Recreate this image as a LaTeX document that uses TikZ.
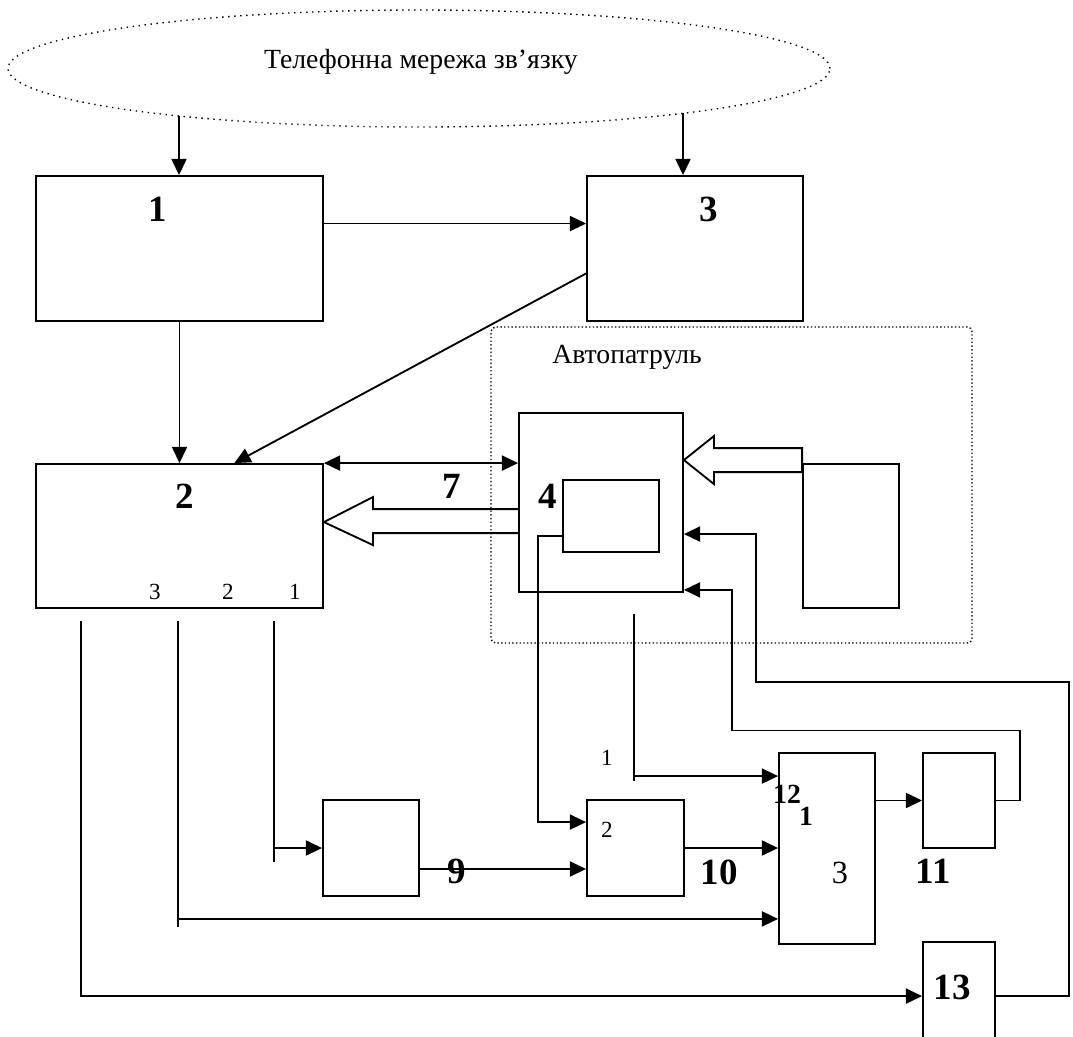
\documentclass[tikz,border=0pt]{standalone}
\usepackage{fontspec}
\setmainfont{Liberation Serif}
\usetikzlibrary{positioning}
\usetikzlibrary{calc}
\usetikzlibrary{arrows.meta}
\usetikzlibrary{fit}
\usetikzlibrary{shapes.geometric}
\newcommand{\pxu}{0.433pt}
\newcommand{\bignum}{\fontsize{16}{19}\selectfont\bfseries}
\newcommand{\midnum}{\fontsize{12}{14}\selectfont\bfseries}
\newcommand{\portnum}{\fontsize{10}{12}\selectfont}

\begin{document}
\begin{tikzpicture}[x=\pxu, y=-\pxu, line width=0.8pt,
    every node/.style={font=\fontsize{12}{14}\selectfont},
    box/.style={draw, rectangle, inner sep=0pt},
    arr/.style={-{Triangle[length=7pt,width=6.5pt]}},
    arrboth/.style={{Triangle[length=7pt,width=6.5pt]}-{Triangle[length=7pt,width=6.5pt]}}]
    \useasboundingbox (0,0) rectangle (1073,1037);
    \clip (0,0) rectangle (1073,1037);

    \node[draw, dotted, line width=0.6pt, ellipse, inner sep=0pt, minimum width=822*\pxu, minimum height=117*\pxu] (net) at (419,68.5) {};
    \node (nettext) at (421,62) {Телефонна мережа зв’язку};
    \node[draw, densely dotted, line width=0.6pt, rounded corners=2pt, inner sep=0pt, fit={(491,327) (972,643)}] (patrol) {};
    \node (patroltext) at (627,357) {Автопатруль};

    \node[box, fit={(36,176) (323,321)}] (box1) {};
    \node[box, fit={(587,176) (803,321)}] (box3) {};
    \node[box, fit={(36,464) (323,608)}] (box2) {};
    \node[box, fit={(519,413) (683,592)}] (box4) {};
    \node[box, fit={(563,480) (659,552)}] (inner) {};
    \node[box, fit={(803,464) (899,608)}] (src) {};
    \node[box, fit={(323,800) (419,896)}] (pre) {};
    \node[box, fit={(587,800) (684,896)}] (sel) {};
    \node[box, fit={(779,753) (875,944)}] (mux) {};
    \node[box, fit={(923,753) (995,848)}] (out11) {};
    \node[box, fit={(923,942) (995,1060)}] (out13) {};

    \node[font=\bignum] (lab1) at (158,209) {1};
    \node[font=\bignum] (lab3) at (709,209) {3};
    \node[font=\bignum] (lab2) at (185,496) {2};
    \node[font=\bignum] (lab4) at (548,496) {4};
    \node[font=\bignum] (lab7) at (452,486) {7};
    \node[font=\bignum] (lab9) at (457,871) {9};
    \node[font=\bignum] (lab10) at (719,872) {10};
    \node[font=\bignum] (lab11) at (933,871) {11};
    \node[font=\bignum] (lab13) at (952,987) {13};
    \node[font=\midnum] (lab12) at (787,794) {12};
    \node[font=\midnum] (lab12a) at (806,816) {1};
    \node[font=\fontsize{14}{16}\selectfont] (labmux) at (840,873) {3};
    \node[font=\portnum] (in1) at (607,758) {1};
    \node[font=\portnum] (in2) at (607,830) {2};
    \node[font=\portnum] (out3) at (155,592) {3};
    \node[font=\portnum] (out2) at (228,592) {2};
    \node[font=\portnum] (out1) at (295,592) {1};

    \coordinate (n1) at (179,116);
    \coordinate (n3) at (683,113);
    \draw[arr] (n1) -- (n1 |- box1.north);
    \draw[arr] (n3) -- (n3 |- box3.north);
    \draw[arr] ($(box1.north east)!0.33!(box1.south east)$) coordinate (p13) -- (p13 -| box3.west);
    \draw[arr] (box1.south) -- (box2.north);
    \draw[arr] ($(box3.north west)!0.67!(box3.south west)$) -- ($(box2.north west)!0.69!(box2.north east)$);
    \draw[arrboth] (box2.north east) -- (box2.north east -| box4.west);

    \coordinate (tip7) at ($(box2.north east)+(0,59)$);
    \draw ($(tip7 -| box4.west)+(0,-13)$) -| ($(tip7)+(49,-25)$) -- (tip7) -- ($(tip7)+(49,23)$) |- ($(tip7 -| box4.west)+(0,11)$);
    \coordinate (tip4) at ($(box4.north east)+(0,48)$);
    \draw ($(tip4 -| src.west)+(0,-12)$) -| ($(tip4)+(30,-24)$) -- (tip4) -- ($(tip4)+(30,24)$) |- ($(tip4 -| src.west)+(0,12)$) -- cycle;

    \draw[arr] ($(inner.south west)+(0,-17)$) -| ($(sel.north west)+(-48,23)$) -- ($(sel.north west)+(0,23)$);

    \coordinate (pt1) at ($(box2.south west)+(239,12)$);
    \coordinate (pt2) at ($(box2.south west)+(143,12)$);
    \coordinate (pt3) at ($(box2.south west)+(46,12)$);
    \draw (pt1) -- ++(0,241);
    \draw[arr] (pt1 |- pre.west) -- (pre.west);
    \draw (pt2) -- ++(0,306);
    \draw[arr] (pt2) |- ($(mux.south west)+(0,-26)$);
    \draw[arr] (pt3) |- ($(out13.north west)+(0,55)$);

    \draw[arr] ($(pre.east)+(0,21)$) -- ($(sel.west)+(0,21)$);
    \draw[arr] (sel.east) -- (sel.east -| mux.west);
    \coordinate (s1) at ($(box4.south west)+(116,21)$);
    \draw (s1) -- ++(0,167);
    \draw[arr] (s1) |- ($(mux.north west)+(0,24)$);
    \draw[arr] (out11.west -| mux.east) -- (out11.west);

    \draw[arr] (out11.east) -- ++(24,0) -- ++(0,-70) -| ($(box4.south east)+(48,-3)$) -- ($(box4.south east)+(0,-3)$);
    \draw[arr] ($(out13.north east)+(0,55)$) -- ++(73,0) |- ($(box4.north east)+(72,270)$) -- ($(box4.north east)+(72,122)$) -- ($(box4.north east)+(0,122)$);
\end{tikzpicture}
\end{document}
